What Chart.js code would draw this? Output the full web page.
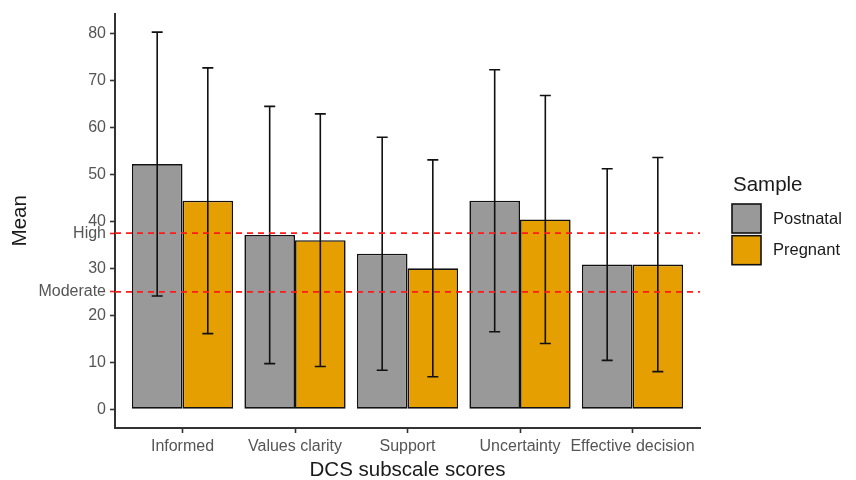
<!DOCTYPE html>
<html>
<head>
<meta charset="utf-8">
<script src="https://cdn.jsdelivr.net/npm/chart.js@4"></script>
<style>
  html, body { margin: 0; padding: 0; background: #fff; }
  #wrap { width: 856px; height: 480px; }
</style>
</head>
<body>
<div id="wrap"><canvas id="graph" width="856" height="480"></canvas></div>
<script>
const categories = ['Informed', 'Values clarity', 'Support', 'Uncertainty', 'Effective decision'];
const seriesNames = ['Postnatal', 'Pregnant'];
const postnatalMean = [52.2, 37.1, 33.1, 44.4, 30.8];
const postnatalSd = [28.1, 27.4, 24.8, 27.9, 20.4];
const pregnantMean = [44.4, 36.0, 30.0, 40.4, 30.8];
const pregnantSd = [28.3, 26.9, 23.1, 26.4, 22.8];
const yTicks = [0, 10, 20, 25, 30, 37.5, 40, 50, 60, 70, 80];
const refValues = [25, 37.5];
const refLabels = ['Moderate', 'High'];

const FONT = "'Liberation Sans', Arial, sans-serif";
const colors = ['#999999', '#E69F00'];
const sds = [postnatalSd, pregnantSd];

// error bars: mean +/- sd, drawn on the bar centres
const errorBars = {
  id: 'errorBars',
  afterDatasetsDraw(chart) {
    const c = chart.ctx;
    const y = chart.scales.y;
    c.save();
    c.strokeStyle = '#111';
    c.lineWidth = 1.6;
    chart.data.datasets.forEach((ds, i) => {
      const meta = chart.getDatasetMeta(i);
      meta.data.forEach((bar, j) => {
        const m = ds.data[j].y;
        const top = y.getPixelForValue(m + sds[i][j]);
        const bot = y.getPixelForValue(m - sds[i][j]);
        c.beginPath();
        c.moveTo(bar.x, top); c.lineTo(bar.x, bot);
        c.moveTo(bar.x - 5.5, top); c.lineTo(bar.x + 5.5, top);
        c.moveTo(bar.x - 5.5, bot); c.lineTo(bar.x + 5.5, bot);
        c.stroke();
      });
    });
    c.restore();
  }
};

const refLines = {
  id: 'refLines',
  afterDatasetsDraw(chart) {
    const c = chart.ctx;
    const a = chart.chartArea;
    c.save();
    c.strokeStyle = '#ff1a1a';
    c.lineWidth = 1.7;
    c.setLineDash([6, 5]);
    refValues.forEach(v => {
      const py = chart.scales.y.getPixelForValue(v);
      c.beginPath();
      c.moveTo(a.left, py); c.lineTo(a.right, py);
      c.stroke();
    });
    c.restore();
  }
};

const sideLegend = {
  id: 'sideLegend',
  afterDraw(chart) {
    const c = chart.ctx;
    const x0 = chart.chartArea.right + 32;
    c.save();
    c.fillStyle = '#1a1a1a';
    c.font = '20.5px ' + FONT;
    c.textBaseline = 'alphabetic';
    c.fillText('Sample', x0 + 1, 191);
    c.font = '16.5px ' + FONT;
    c.textBaseline = 'middle';
    chart.data.datasets.forEach((ds, i) => {
      const top = 204 + i * 31.7;
      c.fillStyle = ds.backgroundColor;
      c.fillRect(x0, top, 29, 29);
      c.strokeStyle = '#111';
      c.lineWidth = 1.6;
      c.strokeRect(x0, top, 29, 29);
      c.fillStyle = '#1a1a1a';
      c.fillText(ds.label, x0 + 41, top + 15);
    });
    c.restore();
  }
};

const datasets = [postnatalMean, pregnantMean].map((vals, i) => ({
  label: seriesNames[i],
  data: vals.map((v, j) => ({ x: j, y: v })),
  backgroundColor: colors[i],
  borderColor: '#111',
  borderWidth: 1.6,
  borderSkipped: false,
  categoryPercentage: 0.9,
  barPercentage: 1.0
}));

const ctx = document.getElementById('graph');
const chart = new Chart(ctx, {
  type: 'bar',
  data: { datasets: datasets },
  options: {
    responsive: false,
    animation: false,
    layout: { padding: { left: 0, right: 156, top: 11, bottom: 0 } },
    plugins: { legend: { display: false }, tooltip: { enabled: false } },
    scales: {
      x: {
        type: 'linear',
        min: -0.6,
        max: 4.6,
        offset: false,
        afterFit: s => { s.height = 52; },
        afterBuildTicks: s => { s.ticks = categories.map((c, i) => ({ value: i })); },
        grid: { offset: false, drawOnChartArea: false, drawTicks: true, tickLength: 5, tickColor: '#333', tickWidth: 1.6 },
        border: { display: true, color: '#333', width: 2 },
        ticks: {
          autoSkip: false,
          maxRotation: 0,
          padding: 4,
          color: '#555',
          font: { family: FONT, size: 16 },
          callback: v => categories[v]
        },
        title: {
          display: true,
          text: 'DCS subscale scores',
          color: '#1a1a1a',
          font: { family: FONT, size: 20.5, lineHeight: 0.9 },
          padding: { top: 0, bottom: 0 }
        }
      },
      y: {
        min: -4.01,
        max: 84.25,
        afterFit: s => { s.width = 115; },
        afterBuildTicks: s => { s.ticks = yTicks.map(v => ({ value: v })); },
        grid: {
          drawOnChartArea: false,
          drawTicks: true,
          tickLength: 5,
          tickWidth: 1.6,
          tickColor: c => (c.tick && refValues.includes(c.tick.value)) ? '#ff1a1a' : '#333'
        },
        border: { display: true, color: '#333', width: 2 },
        ticks: {
          autoSkip: false,
          padding: 4,
          color: '#555',
          font: { family: FONT, size: 16 },
          callback: v => {
            const k = refValues.indexOf(v);
            return k >= 0 ? refLabels[k] : v;
          }
        },
        title: {
          display: true,
          text: 'Mean',
          color: '#1a1a1a',
          font: { family: FONT, size: 20.5 },
          padding: { top: 8, bottom: 0 }
        }
      }
    }
  },
  plugins: [errorBars, refLines, sideLegend]
});
</script>
</body>
</html>
